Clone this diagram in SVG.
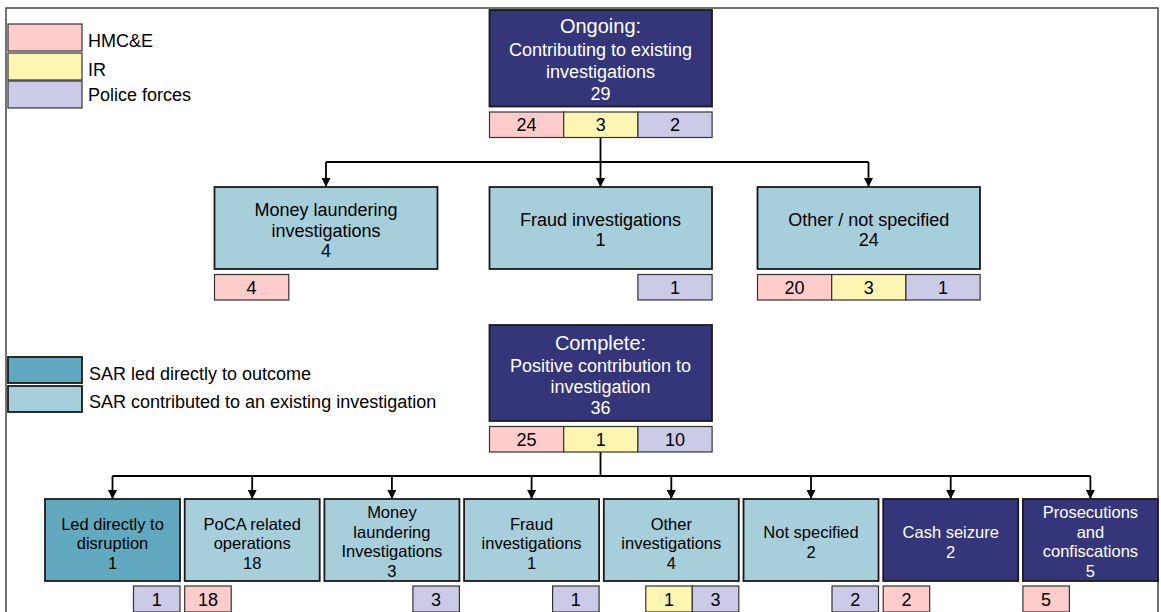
<svg xmlns="http://www.w3.org/2000/svg" width="1161" height="612" viewBox="0 0 1161 612">
<style>
text{font-family:"Liberation Sans",Arial,sans-serif;text-anchor:middle;fill:#000}
.t18{font-size:18px}
.t20{font-size:20px}
.t16{font-size:16.5px}
.w{fill:#fff}
.lg{text-anchor:start;font-size:18px}
.navy{fill:#343679;stroke:#1a1a1a;stroke-width:1.8}
.lb{fill:#a6cedb;stroke:#1a1a1a;stroke-width:1.8}
.dt{fill:#62a9bf;stroke:#1a1a1a;stroke-width:1.8}
.pk{fill:#ffcccc;stroke:#333;stroke-width:1.2}
.yl{fill:#fff5b3;stroke:#333;stroke-width:1.2}
.pl{fill:#cbcbe8;stroke:#333;stroke-width:1.2}
.ln{fill:none;stroke:#000;stroke-width:1.8}
</style>
<defs>
<marker id="ah" markerUnits="userSpaceOnUse" markerWidth="9" markerHeight="9" viewBox="0 0 9 9" refX="9" refY="4.5" orient="auto">
<path d="M0,0 L9,4.5 L0,9 Z" fill="#000"/>
</marker>
</defs>
<rect x="6" y="8" width="1152" height="620" fill="#fff" stroke="#444" stroke-width="1.5"/>

<g id="legend">
<rect class="pk" x="8" y="24" width="74" height="27"/>
<rect class="yl" x="8" y="53" width="74" height="27"/>
<rect class="pl" x="8" y="81" width="74" height="27"/>
<text class="lg" x="88" y="47">HMC&amp;E</text>
<text class="lg" x="88" y="75.5">IR</text>
<text class="lg" x="88" y="101">Police forces</text>
<rect class="dt" x="8" y="357" width="74" height="26"/>
<rect class="lb" x="8" y="386" width="74" height="26"/>
<text class="lg" x="89" y="379.5">SAR led directly to outcome</text>
<text class="lg" x="89" y="408">SAR contributed to an existing investigation</text>
</g>

<g id="connectors">
<path class="ln" d="M600.5,137.5 V162 M326,162 H868.5"/>
<path class="ln" d="M326,162 V187" marker-end="url(#ah)"/>
<path class="ln" d="M600.5,162 V187" marker-end="url(#ah)"/>
<path class="ln" d="M868.5,162 V187" marker-end="url(#ah)"/>
<path class="ln" d="M600.5,452 V476 M112.5,476 H1090.4"/>
<path class="ln" d="M112.5,476 V499" marker-end="url(#ah)"/>
<path class="ln" d="M252.2,476 V499" marker-end="url(#ah)"/>
<path class="ln" d="M391.9,476 V499" marker-end="url(#ah)"/>
<path class="ln" d="M531.6,476 V499" marker-end="url(#ah)"/>
<path class="ln" d="M671.3,476 V499" marker-end="url(#ah)"/>
<path class="ln" d="M811,476 V499" marker-end="url(#ah)"/>
<path class="ln" d="M950.7,476 V499" marker-end="url(#ah)"/>
<path class="ln" d="M1090.4,476 V499" marker-end="url(#ah)"/>
</g>

<g id="ongoing">
<rect class="navy" x="489.5" y="10" width="222.5" height="96.5"/>
<text class="t20 w" x="600.5" y="33">Ongoing:</text>
<text class="t18 w" x="600.5" y="55.5">Contributing to existing</text>
<text class="t18 w" x="600.5" y="78">investigations</text>
<text class="t18 w" x="600.5" y="100">29</text>
<rect class="pk" x="489.5" y="112" width="74.2" height="25.5"/>
<rect class="yl" x="563.7" y="112" width="74.2" height="25.5"/>
<rect class="pl" x="637.9" y="112" width="74.2" height="25.5"/>
<text class="t18" x="526.6" y="131">24</text>
<text class="t18" x="600.8" y="131">3</text>
<text class="t18" x="675" y="131">2</text>
</g>

<g id="ongoing-money-laundering">
<rect class="lb" x="214.5" y="187" width="223" height="82"/>
<text class="t18" x="326" y="216">Money laundering</text>
<text class="t18" x="326" y="236.5">investigations</text>
<text class="t18" x="326" y="256.5">4</text>
<rect class="pk" x="214.5" y="274.5" width="74.3" height="25.5"/>
<text class="t18" x="251.6" y="293.5">4</text>
</g>

<g id="ongoing-fraud">
<rect class="lb" x="489.5" y="187" width="222.5" height="82"/>
<text class="t18" x="600.5" y="226">Fraud investigations</text>
<text class="t18" x="600.5" y="246">1</text>
<rect class="pl" x="637.9" y="274.5" width="74.2" height="25.5"/>
<text class="t18" x="675" y="293.5">1</text>
</g>

<g id="ongoing-other">
<rect class="lb" x="757.5" y="187" width="222.5" height="82"/>
<text class="t18" x="868.7" y="226">Other / not specified</text>
<text class="t18" x="868.7" y="246">24</text>
<rect class="pk" x="757.5" y="274.5" width="74.2" height="25.5"/>
<rect class="yl" x="831.7" y="274.5" width="74.2" height="25.5"/>
<rect class="pl" x="905.9" y="274.5" width="74.2" height="25.5"/>
<text class="t18" x="794.6" y="293.5">20</text>
<text class="t18" x="868.8" y="293.5">3</text>
<text class="t18" x="943" y="293.5">1</text>
</g>

<g id="complete">
<rect class="navy" x="489.5" y="325" width="222.5" height="96"/>
<text class="t20 w" x="600.5" y="350">Complete:</text>
<text class="t18 w" x="600.5" y="371.5">Positive contribution to</text>
<text class="t18 w" x="600.5" y="392.5">investigation</text>
<text class="t18 w" x="600.5" y="413.5">36</text>
<rect class="pk" x="489.5" y="426.5" width="74.2" height="25.5"/>
<rect class="yl" x="563.7" y="426.5" width="74.2" height="25.5"/>
<rect class="pl" x="637.9" y="426.5" width="74.2" height="25.5"/>
<text class="t18" x="526.6" y="445.5">25</text>
<text class="t18" x="600.8" y="445.5">1</text>
<text class="t18" x="675" y="445.5">10</text>
</g>

<g id="led-directly">
<rect class="dt" x="45" y="499" width="135" height="82"/>
<text class="t16" x="112.5" y="529.5">Led directly to</text>
<text class="t16" x="112.5" y="549">disruption</text>
<text class="t16" x="112.5" y="568.5">1</text>
<rect class="pl" x="133.5" y="586" width="46.5" height="26"/>
<text class="t18" x="156.7" y="605.5">1</text>
</g>

<g id="poca">
<rect class="lb" x="184.7" y="499" width="135" height="82"/>
<text class="t16" x="252.2" y="529.5">PoCA related</text>
<text class="t16" x="252.2" y="549">operations</text>
<text class="t16" x="252.2" y="568.5">18</text>
<rect class="pk" x="184.7" y="586" width="46.5" height="26"/>
<text class="t18" x="207.9" y="605.5">18</text>
</g>

<g id="complete-money-laundering">
<rect class="lb" x="324.4" y="499" width="135" height="82"/>
<text class="t16" x="391.9" y="518">Money</text>
<text class="t16" x="391.9" y="537.5">laundering</text>
<text class="t16" x="391.9" y="557">Investigations</text>
<text class="t16" x="391.9" y="576.5">3</text>
<rect class="pl" x="412.9" y="586" width="46.5" height="26"/>
<text class="t18" x="436.1" y="605.5">3</text>
</g>

<g id="complete-fraud">
<rect class="lb" x="464.1" y="499" width="135" height="82"/>
<text class="t16" x="531.6" y="529.5">Fraud</text>
<text class="t16" x="531.6" y="549">investigations</text>
<text class="t16" x="531.6" y="568.5">1</text>
<rect class="pl" x="552.6" y="586" width="46.5" height="26"/>
<text class="t18" x="575.8" y="605.5">1</text>
</g>

<g id="complete-other">
<rect class="lb" x="603.8" y="499" width="135" height="82"/>
<text class="t16" x="671.3" y="529.5">Other</text>
<text class="t16" x="671.3" y="549">investigations</text>
<text class="t16" x="671.3" y="568.5">4</text>
<rect class="yl" x="645.8" y="586" width="46.5" height="26"/>
<rect class="pl" x="692.3" y="586" width="46.5" height="26"/>
<text class="t18" x="669" y="605.5">1</text>
<text class="t18" x="715.5" y="605.5">3</text>
</g>

<g id="not-specified">
<rect class="lb" x="743.5" y="499" width="135" height="82"/>
<text class="t16" x="811" y="538">Not specified</text>
<text class="t16" x="811" y="557.5">2</text>
<rect class="pl" x="832" y="586" width="46.5" height="26"/>
<text class="t18" x="855.2" y="605.5">2</text>
</g>

<g id="cash-seizure">
<rect class="navy" x="883.2" y="499" width="135" height="82"/>
<text class="t16 w" x="950.7" y="538">Cash seizure</text>
<text class="t16 w" x="950.7" y="557.5">2</text>
<rect class="pk" x="883.2" y="586" width="46.5" height="26"/>
<text class="t18" x="906.4" y="605.5">2</text>
</g>

<g id="prosecutions">
<rect class="navy" x="1022.9" y="499" width="135" height="82"/>
<text class="t16 w" x="1090.4" y="518">Prosecutions</text>
<text class="t16 w" x="1090.4" y="537.5">and</text>
<text class="t16 w" x="1090.4" y="557">confiscations</text>
<text class="t16 w" x="1090.4" y="576.5">5</text>
<rect class="pk" x="1022.9" y="586" width="46.5" height="26"/>
<text class="t18" x="1046.1" y="605.5">5</text>
</g>
</svg>
